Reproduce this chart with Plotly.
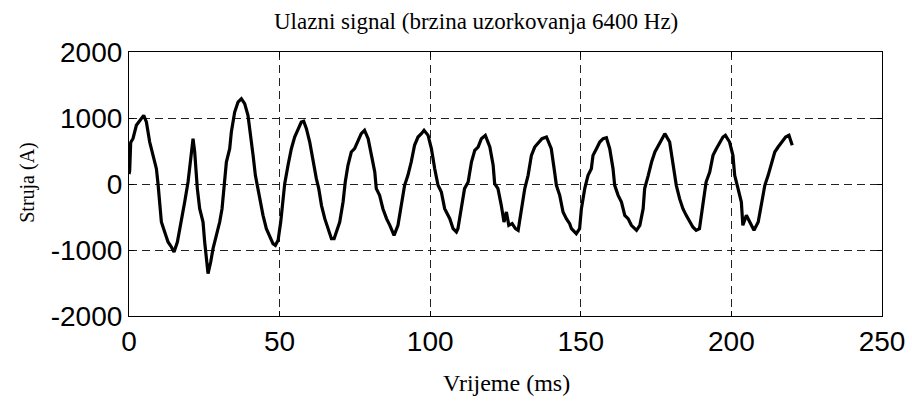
import plotly.graph_objects as go

# Time (ms) and current (A)
time_ms = [
    0.0, 0.23, 0.56, 1.34, 2.45, 3.55, 4.88, 5.77, 6.87, 7.98, 9.09, 9.64, 10.19, 10.75,
    11.85, 12.96, 14.07, 14.95, 16.06, 17.39, 18.49, 19.60, 20.15, 20.70, 21.26, 21.81,
    22.14, 22.69, 23.47, 24.58, 25.13, 25.69, 26.24, 27.12, 27.90, 29.00, 30.11, 30.89,
    31.77, 32.33, 33.43, 33.98, 35.09, 36.20, 37.3, 38.4, 39.5, 40.6, 41.2, 41.96, 42.6,
    43.4, 44.5, 45.6, 46.7, 47.8, 48.6, 49.5, 50.37, 51.1, 51.7, 52.8, 53.9, 55.0, 56.1,
    57.2, 58.0, 58.9, 60.0, 61.1, 62.2, 63.0, 63.9, 65.0, 66.1, 67.2, 68.1, 68.85, 69.96,
    71.07, 71.8, 72.7, 73.8, 74.9, 76.0, 77.1, 78.2, 79.4, 80.5, 81.6, 82.1, 83.2, 84.3,
    85.5, 86.6, 88.0, 89.3, 90.4, 91.5, 92.6, 93.7, 94.8, 95.96, 97.07, 97.95, 99.3,
    100.4, 101.5, 102.6, 103.7, 104.8, 106.5, 107.6, 108.7, 109.2, 110.3, 111.4, 112.6,
    113.7, 114.8, 115.9, 117.0, 118.3, 119.8, 120.9, 121.4, 122.5, 123.6, 124.5, 125.3,
    126.1, 127.2, 128.3, 129.2, 130.3, 131.4, 132.5, 133.6, 134.7, 136.0, 137.1, 138.6,
    140.2, 141.3, 141.9, 143.0, 144.1, 145.2, 146.3, 146.9, 148.5, 149.6, 150.2, 151.3,
    152.4, 153.5, 154.05, 155.2, 156.3, 157.4, 158.5, 159.6, 160.7, 161.25, 162.4, 163.5,
    164.6, 165.7, 166.8, 168.5, 169.6, 170.7, 171.2, 172.4, 173.5, 174.6, 176.2, 177.9,
    179.5, 180.6, 181.7, 182.8, 183.9, 185.0, 186.1, 187.2, 188.3, 189.4, 190.5, 191.6,
    192.8, 193.9, 195.0, 196.1, 197.2, 198.0, 199.4, 200.5, 201.1, 202.2, 203.3, 203.8,
    204.97, 206.1, 207.5, 208.9, 210.0, 211.1, 212.2, 213.3, 214.4, 215.5, 216.6, 218.0,
    219.1, 220.2,
]
current_a = [
    150, 205, 630, 690, 890, 965, 1040, 940, 636, 434, 232, 0, -273, -576,
    -727, -879, -954, -1030, -879, -576, -273, 30, 232, 434, 687, 485,
    232, -70, -374, -576, -879, -1182, -1358, -1182, -980, -778, -576, -374,
    30, 333, 535, 788, 1090, 1242, 1293, 1217, 1040, 687, 434, 131, -20,
    -222, -475, -677, -803, -904, -929, -853, -576, -222, 5, 283, 535, 712, 838,
    939, 950, 838, 636, 333, 81, -70, -323, -525, -677, -828, -828, -727, -576,
    -273, 30, 283, 485, 535, 636, 763, 813, 687, 434, 182, -70, -172, -374,
    -525, -626, -778, -626, -323, -20, 131, 333, 586, 712, 763, 813, 737,
    535, 232, -20, -121, -374, -525, -677, -727, -677, -374, -70, 30,
    333, 510, 560, 687, 737, 560, 283, 5, -70, -323, -576, -424,
    -626, -601, -677, -702, -374, -70, 131, 434, 560, 636, 687, 712,
    535, 182, -20, -172, -424, -525, -600, -677, -752, -677, -374, -70,
    131, 232, 434, 535, 636, 687, 700, 535, 232, -20, -172, -273,
    -475, -525, -626, -702, -626, -374, -70, 131, 333, 485, 611, 763,
    636, 333, -20, -222, -374, -475, -576, -651, -702, -677, -323, 30,
    182, 434, 535, 636, 712, 737, 636, 434, 131, -70, -273, -626,
    -475, -576, -702, -576, -323, -20, 131, 333, 485, 560, 636, 712,
    737, 586,
]

x_ticks = [0, 50, 100, 150, 200, 250]
y_ticks = [-2000, -1000, 0, 1000, 2000]

title_text = "Ulazni signal (brzina uzorkovanja 6400 Hz)"
x_label = "Vrijeme (ms)"
y_label = "Struja (A)"

serif = "Liberation Serif, Times New Roman, serif"
sans = "Liberation Sans, Arial, sans-serif"

fig = go.Figure()
fig.add_trace(go.Scatter(
    x=time_ms, y=current_a, mode="lines",
    line=dict(color="black", width=3.2),
    showlegend=False,
))

axis_common = dict(
    showline=True, linecolor="black", linewidth=1.2, mirror="ticks",
    ticks="inside", ticklen=5, tickcolor="black", tickwidth=1,
    showgrid=True, gridcolor="#222222", gridwidth=1, griddash="8px,5px",
    zeroline=False, automargin=False,
    tickfont=dict(family=sans, size=28, color="black"),
)

fig.update_xaxes(range=[0, 250], tickvals=x_ticks, ticktext=[str(v) for v in x_ticks],
                 **axis_common)
fig.update_yaxes(range=[-2000, 2000], tickvals=y_ticks, ticktext=[str(v) for v in y_ticks],
                 **axis_common)

fig.update_layout(
    width=912, height=401,
    margin=dict(l=129, r=30, t=52, b=85, autoexpand=False),
    paper_bgcolor="white", plot_bgcolor="white",
    annotations=[
        dict(text=title_text, xref="paper", yref="paper", x=0.461, y=1.117,
             xanchor="center", yanchor="middle", showarrow=False,
             font=dict(family=serif, size=23, color="black")),
        dict(text=x_label, xref="paper", yref="paper", x=0.5016, y=-0.254,
             xanchor="center", yanchor="middle", showarrow=False,
             font=dict(family=serif, size=24, color="black")),
        dict(text=y_label, xref="paper", yref="paper", x=-0.134, y=0.505,
             xanchor="center", yanchor="middle", showarrow=False, textangle=-90,
             font=dict(family=serif, size=20, color="black")),
    ],
)

fig.write_html(
    "out.html",
    config={"displayModeBar": False},
    post_script="document.body.style.margin='0';document.body.style.overflow='hidden';",
)
